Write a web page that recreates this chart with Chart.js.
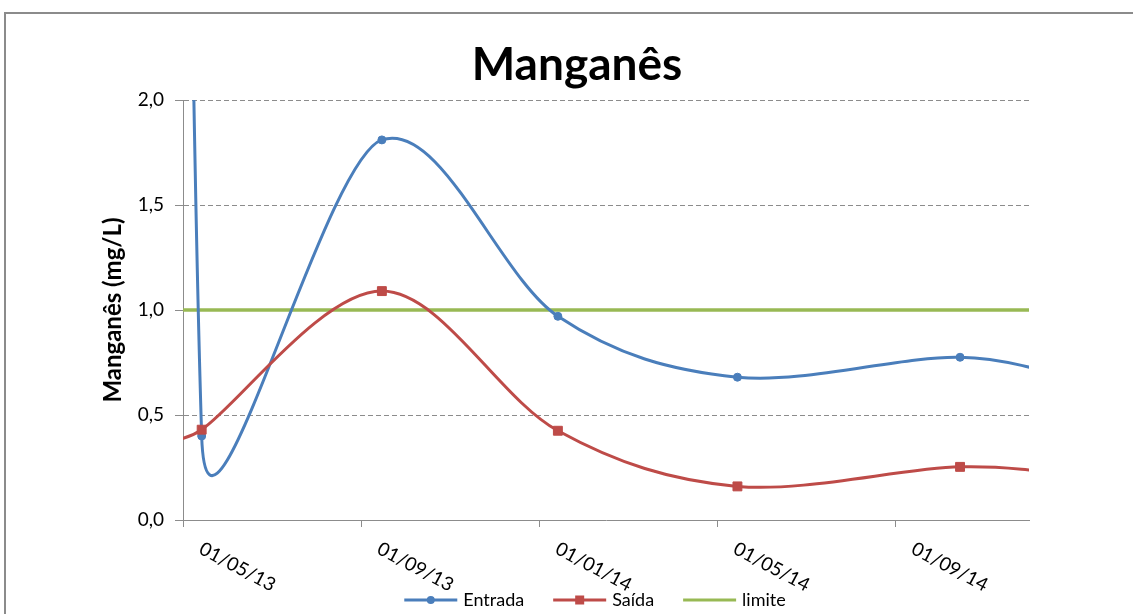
<!DOCTYPE html>
<html>
<head>
<meta charset="utf-8">
<title>Manganês</title>
<script src="https://cdn.jsdelivr.net/npm/chart.js@4.4.1/dist/chart.umd.min.js"></script>
<style>
    html, body { margin: 0; padding: 0; background: #fff; overflow: hidden; }
    #moldura { position: absolute; left: 4px; top: 12px; width: 2000px; height: 2000px; border: 2px solid #8b8b8b; }
    #grafico { position: absolute; left: 0; top: 0; }
</style>
</head>
<body>
<div id="moldura"></div>
<canvas id="grafico" width="1133" height="614"></canvas>
<script>
// datas das coletas (a primeira e a ultima ficam fora do eixo)
const datasColeta = ['2013-04-15', '2013-05-14', '2013-09-15', '2014-01-14', '2014-05-15', '2014-10-15', '2015-01-15'];
const entrada = [36, 0.40, 1.81, 0.97, 0.68, 0.775, 0.64];
const saida = [0.37, 0.43, 1.09, 0.425, 0.16, 0.253, 0.20];
const limite = [1, 1, 1, 1, 1, 1, 1];

// eixos
const limitesX = ['2013-05-01', '2014-12-01'];
const marcasX = ['2013-05-01', '2013-09-01', '2014-01-01', '2014-05-01', '2014-09-01'];
const rotulosX = ['01/05/13', '01/09/13', '01/01/14', '01/05/14', '01/09/14'];
const marcasY = [0, 0.5, 1, 1.5, 2];

const corEntrada = '#4a7ebb';
const corSaida = '#be4b48';
const corLimite = '#98b954';
const corEixo = '#8c8c8c';
const fonte = 'Lato';

/**
 * converte data em meses (eixo de datas com base mensal, como no Excel)
 */
function mesIndex(s) {
    const [a, m, d] = s.split('-').map(Number);
    const diasMes = new Date(a, m, 0).getDate();
    return (a - 2013) * 12 + (m - 5) + (d - 1) / diasMes;
}

function pontos(valores) {
    return datasColeta.map((d, i) => ({ x: mesIndex(d), y: valores[i] }));
}

/**
 * curva suavizada no estilo do Excel (bezier 1/6, limitada a metade do segmento)
 */
const suavizacaoExcel = {
    id: 'suavizacaoExcel',
    afterDatasetsUpdate(chart) {
        chart.data.datasets.forEach((ds, di) => {
            if (!ds.suavizar) return;
            const meta = chart.getDatasetMeta(di);
            const pts = meta.data;
            for (let i = 0; i < pts.length - 1; i++) {
                const p0 = pts[i - 1] || pts[i];
                const p1 = pts[i];
                const p2 = pts[i + 1];
                const p3 = pts[i + 2] || pts[i + 1];
                const d12 = Math.hypot(p2.x - p1.x, p2.y - p1.y);
                const d02 = Math.hypot(p2.x - p0.x, p2.y - p0.y);
                const d13 = Math.hypot(p3.x - p1.x, p3.y - p1.y);
                const f1 = d02 ? Math.min(1 / 6, d12 / (2 * d02)) : 0;
                const f2 = d13 ? Math.min(1 / 6, d12 / (2 * d13)) : 0;
                p1.cp2x = p1.x + f1 * (p2.x - p0.x);
                p1.cp2y = p1.y + f1 * (p2.y - p0.y);
                p2.cp1x = p2.x - f2 * (p3.x - p1.x);
                p2.cp1y = p2.y - f2 * (p3.y - p1.y);
            }
            meta.dataset._pointsUpdated = true;
        });
    }
};

/**
 * rotulos do eixo X inclinados
 */
const rotulosEixoX = {
    id: 'rotulosEixoX',
    afterDraw(chart) {
        const { ctx, chartArea } = chart;
        const x = chart.scales.x;
        ctx.save();
        ctx.font = '19px ' + fonte;
        ctx.fillStyle = '#000';
        ctx.textAlign = 'left';
        ctx.textBaseline = 'top';
        x.ticks.forEach((t, i) => {
            const px = x.getPixelForValue(t.value);
            ctx.save();
            ctx.translate(px + 22, chartArea.bottom + 19);
            ctx.rotate(28 * Math.PI / 180);
            ctx.fillText(rotulosX[i], 0, 0);
            ctx.restore();
        });
        ctx.restore();
    }
};

/**
 * titulo e legenda
 */
const tituloELegenda = {
    id: 'tituloELegenda',
    afterDraw(chart) {
        const ctx = chart.ctx;
        ctx.save();
        ctx.fillStyle = '#000';
        ctx.font = 'bold 46px ' + fonte;
        ctx.textAlign = 'center';
        ctx.textBaseline = 'middle';
        ctx.fillText('Manganês', 577, 65);

        // legenda
        ctx.font = '18px ' + fonte;
        ctx.textAlign = 'left';
        const amostra = 53, folga = 6, espaco = 29;
        const itens = chart.data.datasets.map(ds => ({
            texto: ds.label,
            cor: ds.borderColor,
            estilo: ds.pointRadius ? ds.pointStyle : null,
            largura: amostra + folga + ctx.measureText(ds.label).width
        }));
        const total = itens.reduce((s, it) => s + it.largura, 0) + espaco * (itens.length - 1);
        let cx = 595 - total / 2;
        const cy = 600;
        itens.forEach(it => {
            ctx.strokeStyle = it.cor;
            ctx.fillStyle = it.cor;
            ctx.lineWidth = 3;
            ctx.beginPath();
            ctx.moveTo(cx, cy);
            ctx.lineTo(cx + amostra, cy);
            ctx.stroke();
            const mx = cx + amostra / 2;
            if (it.estilo === 'circle') {
                ctx.beginPath();
                ctx.arc(mx, cy, 4, 0, Math.PI * 2);
                ctx.fill();
            } else if (it.estilo === 'rect') {
                ctx.fillRect(mx - 4.5, cy - 4.5, 9, 9);
            }
            ctx.fillStyle = '#000';
            ctx.fillText(it.texto, cx + amostra + folga, cy);
            cx += it.largura + espaco;
        });
        ctx.restore();
    }
};

new Chart(document.getElementById('grafico'), {
    type: 'line',
    data: {
        datasets: [
            {
                label: 'Entrada',
                data: pontos(entrada),
                borderColor: corEntrada,
                backgroundColor: corEntrada,
                borderWidth: 3,
                pointStyle: 'circle',
                pointRadius: 4,
                pointBorderWidth: 1,
                tension: 0.4,
                suavizar: true,
                order: 1
            },
            {
                label: 'Saída',
                data: pontos(saida),
                borderColor: corSaida,
                backgroundColor: corSaida,
                borderWidth: 3,
                pointStyle: 'rect',
                pointRadius: 6.3,
                pointBorderWidth: 1,
                tension: 0.4,
                suavizar: true,
                order: 0
            },
            {
                label: 'limite',
                data: pontos(limite),
                borderColor: corLimite,
                backgroundColor: corLimite,
                borderWidth: 3.5,
                pointRadius: 0,
                tension: 0,
                order: 2
            }
        ]
    },
    options: {
        responsive: false,
        animation: false,
        events: [],
        layout: { padding: { top: 100, right: 104, bottom: 0, left: 0 } },
        plugins: {
            legend: { display: false },
            title: { display: false },
            tooltip: { enabled: false }
        },
        scales: {
            x: {
                type: 'linear',
                min: mesIndex(limitesX[0]),
                max: mesIndex(limitesX[1]),
                afterBuildTicks: (scale) => {
                    scale.ticks = marcasX.map(d => ({ value: mesIndex(d) }));
                },
                afterFit: (scale) => { scale.height = 94; },
                ticks: { display: false },
                grid: {
                    display: true,
                    drawOnChartArea: false,
                    drawTicks: true,
                    tickLength: 7,
                    tickColor: corEixo
                },
                border: { color: corEixo, width: 1 }
            },
            y: {
                min: 0,
                max: 2,
                afterBuildTicks: (scale) => {
                    scale.ticks = marcasY.map(v => ({ value: v }));
                },
                afterFit: (scale) => { scale.width = 183; },
                ticks: {
                    padding: 11,
                    color: '#000',
                    font: { family: fonte, size: 19 },
                    callback: (v) => v.toFixed(1).replace('.', ',')
                },
                grid: {
                    color: (c) => (c.tick && c.tick.value === 0 ? 'rgba(0,0,0,0)' : corEixo),
                    lineWidth: 1,
                    tickLength: 8,
                    tickColor: corEixo
                },
                border: { color: corEixo, width: 1, dash: [5, 3] },
                title: {
                    display: true,
                    text: 'Manganês (mg/L)',
                    color: '#000',
                    font: { family: fonte, size: 24, weight: 'bold' },
                    padding: { top: 99, bottom: 0 }
                }
            }
        }
    },
    plugins: [suavizacaoExcel, rotulosEixoX, tituloELegenda]
});
</script>
</body>
</html>
